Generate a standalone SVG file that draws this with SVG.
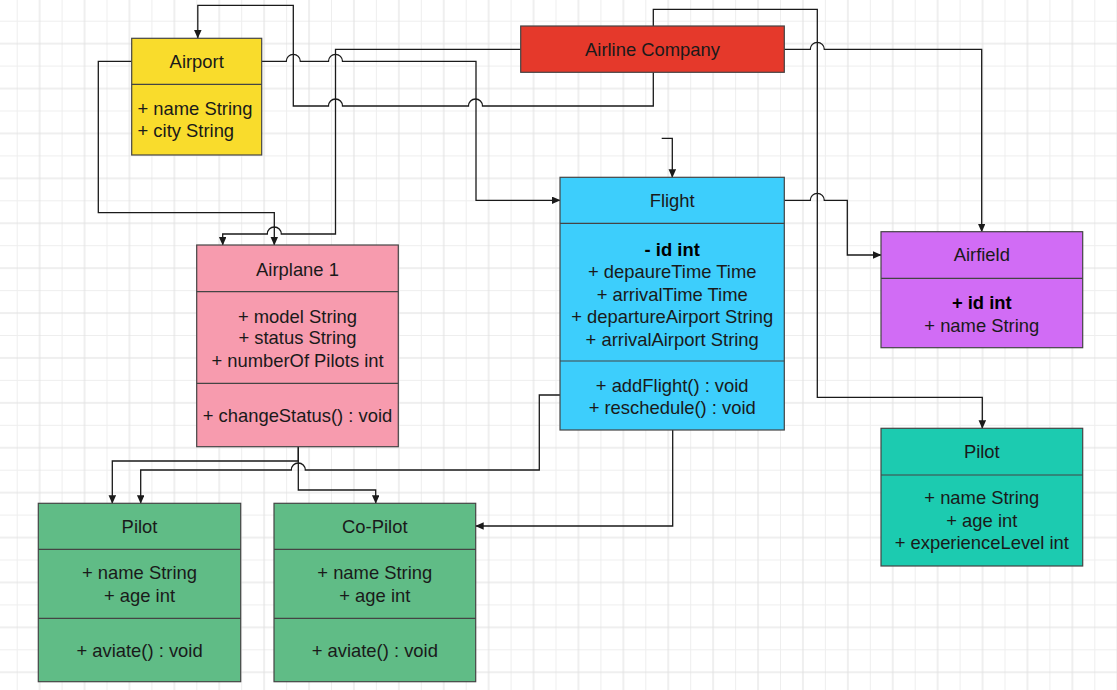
<svg xmlns="http://www.w3.org/2000/svg" width="1117" height="690" viewBox="0 0 1117 690">
<defs>
<pattern id="grid" x="16.7" y="20.7" width="44.9" height="44.9" patternUnits="userSpaceOnUse">
<rect x="0" y="0" width="1" height="44.9" fill="#eeeeee"/>
<rect x="0" y="0" width="44.9" height="1" fill="#eeeeee"/>
<rect x="22.45" y="0" width="1" height="44.9" fill="#e0e0e0"/>
<rect x="0" y="22.45" width="44.9" height="1" fill="#e0e0e0"/>
</pattern>
<marker id="arr" markerWidth="9" markerHeight="8" refX="8" refY="3.75" orient="auto" markerUnits="userSpaceOnUse">
<path d="M0,0 L8.5,3.75 L0,7.5 z" fill="#1a1a1a"/>
</marker>
</defs>
<style>
.box{stroke:#444;stroke-width:1.2}
.div{stroke:#444;stroke-width:1.2}
.t{font-family:"Liberation Sans",Arial,sans-serif;font-size:18.4px;fill:#1a1a1a}
.c{text-anchor:middle}
.b{font-weight:bold;fill:#000}
.e{fill:none;stroke:#1a1a1a;stroke-width:1.3}
.ea{fill:none;stroke:#1a1a1a;stroke-width:1.3;marker-end:url(#arr)}
</style>
<rect width="1117" height="690" fill="#ffffff"/>
<rect width="1117" height="690" fill="url(#grid)"/>

<g id="connectors">
<path class="ea" d="M653.3,72 L653.3,106 L482.5,106 A7,7 0 0 0 468.5,106 L342.5,106 A7,7 0 0 0 328.5,106 L293.3,106 L293.3,5.3 L197.8,5.3 L197.8,38"/>
<path class="ea" d="M261.7,61.3 L286.3,61.3 A7,7 0 0 1 300.3,61.3 L328.5,61.3 A7,7 0 0 1 342.5,61.3 L476,61.3 L476,200.3 L560,200.3"/>
<path class="ea" d="M520.7,49.3 L335.5,49.3 L335.5,234 L281.3,234 A7,7 0 0 0 267.3,234 L222.7,234 L222.7,245"/>
<path class="ea" d="M131.7,61.3 L98.3,61.3 L98.3,212.7 L274.3,212.7 L274.3,245"/>
<path class="ea" d="M653.3,26 L653.3,9.3 L817.3,9.3 L817.3,397.3 L982.3,397.3 L982.3,428.3"/>
<path class="ea" d="M784.3,49.3 L810.3,49.3 A7,7 0 0 1 824.3,49.3 L981.7,49.3 L981.7,231.7"/>
<path class="ea" d="M784.3,200.3 L810.3,200.3 A7,7 0 0 1 824.3,200.3 L847.3,200.3 L847.3,255 L881,255"/>
<path class="ea" d="M661.7,138.3 L672.3,138.3 L672.3,177.3"/>
<path class="ea" d="M672.7,430 L672.7,526 L475.7,526"/>
<path class="ea" d="M560,395 L539.3,395 L539.3,470 L305.3,470 A7,7 0 0 0 291.3,470 L140.7,470 L140.7,503.3"/>
<path class="ea" d="M298.3,446.7 L298.3,490 L375.7,490 L375.7,503.3"/>
<path class="ea" d="M298.3,446.7 L298.3,461 L112.3,461 L112.3,503.3"/>
</g>

<g id="airport">
<rect class="box" x="131.7" y="38.3" width="130" height="116.7" fill="#f9dc2c"/>
<line class="div" x1="131.7" y1="84.3" x2="261.7" y2="84.3"/>
<text class="t c" x="196.7" y="68">Airport</text>
<text class="t" x="137.5" y="114.8">+ name String</text>
<text class="t" x="137.5" y="137.2">+ city String</text>
</g>

<g id="airline-company">
<rect class="box" x="520.7" y="26" width="263.6" height="46.3" fill="#e5392b"/>
<text class="t c" x="652.5" y="55.8">Airline Company</text>
</g>

<g id="flight">
<rect class="box" x="560" y="177.3" width="224.3" height="252.7" fill="#3dcefc"/>
<line class="div" x1="560" y1="223.3" x2="784.3" y2="223.3"/>
<line class="div" x1="560" y1="361" x2="784.3" y2="361"/>
<text class="t c" x="672.2" y="207.2">Flight</text>
<text class="t c b" x="672.2" y="255.8">- id int</text>
<text class="t c" x="672.2" y="278.2">+ depaureTime Time</text>
<text class="t c" x="672.2" y="300.7">+ arrivalTime Time</text>
<text class="t c" x="672.2" y="323.1">+ departureAirport String</text>
<text class="t c" x="672.2" y="345.5">+ arrivalAirport String</text>
<text class="t c" x="672.2" y="391.5">+ addFlight() : void</text>
<text class="t c" x="672.2" y="413.9">+ reschedule() : void</text>
</g>

<g id="airplane-1">
<rect class="box" x="196.7" y="245" width="201.6" height="201.7" fill="#f79bae"/>
<line class="div" x1="196.7" y1="291.7" x2="398.3" y2="291.7"/>
<line class="div" x1="196.7" y1="383.3" x2="398.3" y2="383.3"/>
<text class="t c" x="297.5" y="275.8">Airplane 1</text>
<text class="t c" x="297.5" y="322.5">+ model String</text>
<text class="t c" x="297.5" y="344.2">+ status String</text>
<text class="t c" x="297.5" y="366.5">+ numberOf Pilots int</text>
<text class="t c" x="297.5" y="421.5">+ changeStatus() : void</text>
</g>

<g id="airfield">
<rect class="box" x="881" y="231.7" width="201.7" height="116" fill="#d16cf5"/>
<line class="div" x1="881" y1="278.3" x2="1082.7" y2="278.3"/>
<text class="t c" x="981.8" y="260.8">Airfield</text>
<text class="t c b" x="981.8" y="309.1">+ id int</text>
<text class="t c" x="981.8" y="331.5">+ name String</text>
</g>

<g id="pilot-right">
<rect class="box" x="881" y="428.3" width="201.7" height="137.7" fill="#1ccbb0"/>
<line class="div" x1="881" y1="475" x2="1082.7" y2="475"/>
<text class="t c" x="981.8" y="457.5">Pilot</text>
<text class="t c" x="981.8" y="504.1">+ name String</text>
<text class="t c" x="981.8" y="527.4">+ age int</text>
<text class="t c" x="981.8" y="549.2">+ experienceLevel int</text>
</g>

<g id="pilot-left">
<rect class="box" x="38.3" y="503.3" width="202.4" height="178.4" fill="#60bc86"/>
<line class="div" x1="38.3" y1="549.3" x2="240.7" y2="549.3"/>
<line class="div" x1="38.3" y1="618.3" x2="240.7" y2="618.3"/>
<text class="t c" x="139.5" y="533.2">Pilot</text>
<text class="t c" x="139.5" y="579.2">+ name String</text>
<text class="t c" x="139.5" y="602.1">+ age int</text>
<text class="t c" x="139.5" y="656.5">+ aviate() : void</text>
</g>

<g id="co-pilot">
<rect class="box" x="274" y="503.3" width="201.7" height="178.4" fill="#60bc86"/>
<line class="div" x1="274" y1="549.3" x2="475.7" y2="549.3"/>
<line class="div" x1="274" y1="618.3" x2="475.7" y2="618.3"/>
<text class="t c" x="374.8" y="533.2">Co-Pilot</text>
<text class="t c" x="374.8" y="579.2">+ name String</text>
<text class="t c" x="374.8" y="602.1">+ age int</text>
<text class="t c" x="374.8" y="656.5">+ aviate() : void</text>
</g>
</svg>
